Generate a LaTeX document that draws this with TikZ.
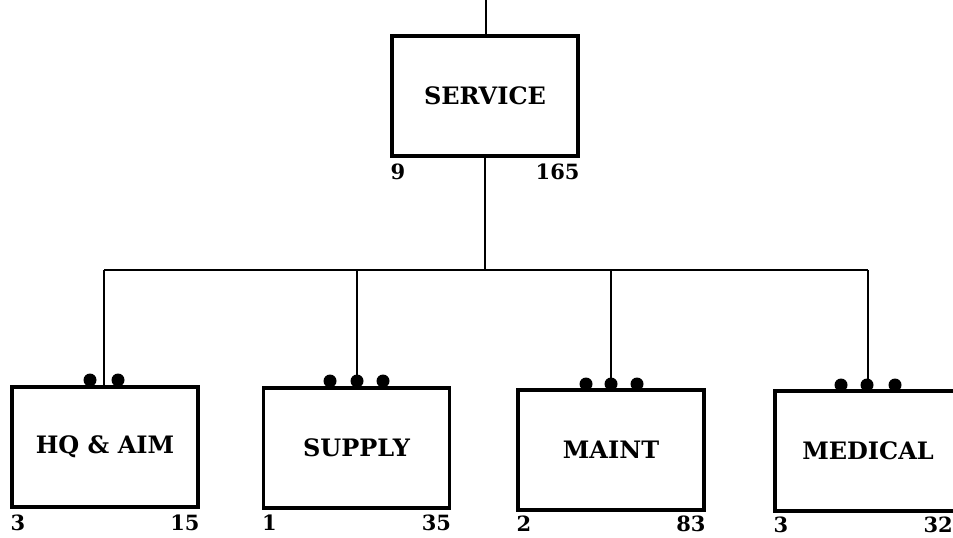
\documentclass[tikz,border=0pt]{standalone}
\usepackage{fontspec}
\setmainfont{DejaVu Serif}
\begin{document}
\begin{tikzpicture}[x=1pt,y=-1pt,
  unitbox/.style={draw, line width=3.4pt, minimum width=186pt, minimum height=120pt, inner sep=0pt,
    font=\bfseries\fontsize{24}{26}\selectfont},
  numlab/.style={inner sep=0pt, font=\bfseries\fontsize{21}{23}\selectfont},
  link/.style={line width=2pt},
  dotmark/.style={fill=black}]
\useasboundingbox (0,0) rectangle (953,538);
% boxes
\node[unitbox] (service) at (485,96) {SERVICE};
\node[unitbox] (hq) at (105,447) {HQ \& AIM};
\node[unitbox] (supply) at (356.5,448) {SUPPLY};
\node[unitbox] (maint) at (611,450) {MAINT};
\node[unitbox] (medical) at (868,451) {MEDICAL};
% strength numbers
\node[numlab, anchor=north west] (serviceL) at ([yshift=-6pt]service.south west) {9};
\node[numlab, anchor=north east] (serviceR) at ([yshift=-6pt]service.south east) {165};
\node[numlab, anchor=north west] (hqL) at ([yshift=-6pt]hq.south west) {3};
\node[numlab, anchor=north east] (hqR) at ([yshift=-6pt]hq.south east) {15};
\node[numlab, anchor=north west] (supplyL) at ([yshift=-5pt]supply.south west) {1};
\node[numlab, anchor=north east] (supplyR) at ([yshift=-5pt]supply.south east) {35};
\node[numlab, anchor=north west] (maintL) at ([yshift=-4pt]maint.south west) {2};
\node[numlab, anchor=north east] (maintR) at ([yshift=-4pt]maint.south east) {83};
\node[numlab, anchor=north west] (medicalL) at ([yshift=-4pt]medical.south west) {3};
\node[numlab, anchor=north east] (medicalR) at ([yshift=-4pt]medical.south east -| 953,0) {32};
% connectors
\coordinate (top) at (486,0);
\coordinate (b1) at (104,270);
\coordinate (b2) at (357,270);
\coordinate (b3) at (611,270);
\coordinate (b4) at (868,270);
\draw[link] (top) -- (top |- service.north);
\draw[link] (service.south) -- (service.south |- b1);
\draw[link] (b1) -- (b4);
\draw[link] (b1) -- (b1 |- hq.north);
\draw[link] (b2) -- (b2 |- supply.north);
\draw[link] (b3) -- (b3 |- maint.north);
\draw[link] (b4) -- (b4 |- medical.north);
% rank dots
\foreach \x in {90,118} \fill[dotmark] (\x,380) circle (6.5pt);
\foreach \x in {330,357,383} \fill[dotmark] (\x,381) circle (6.5pt);
\foreach \x in {586,611,637} \fill[dotmark] (\x,384) circle (6.5pt);
\foreach \x in {841,867,895} \fill[dotmark] (\x,385) circle (6.5pt);
\end{tikzpicture}
\end{document}
